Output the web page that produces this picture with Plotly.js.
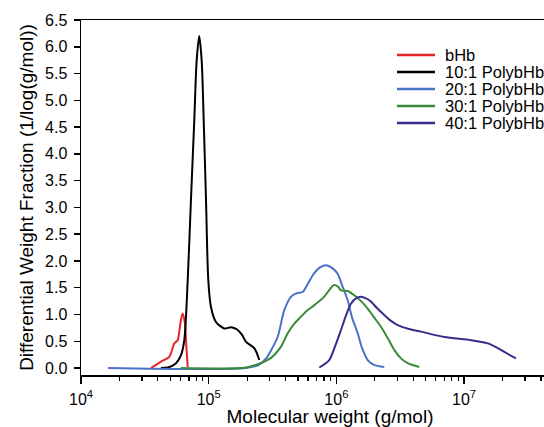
<!DOCTYPE html>
<html><head><meta charset="utf-8">
<script src="https://cdn.plot.ly/plotly-3.0.1.min.js"></script>
<style>html,body{margin:0;padding:0;overflow:hidden;background:#fff}#chart{width:590px;height:427px}</style>
</head><body><div id="chart"></div>
<script>
// Molecular weight (g/mol) and differential weight fraction
const bHb_mw = [35300, 42300, 49100, 53800, 57100, 60000, 62500, 65200, 66800, 68500];
const bHb_y  = [0.0, 0.12, 0.21, 0.46, 0.52, 0.83, 1.02, 0.83, 0.40, 0.02];

const p10_mw = [42300, 47800, 55500, 60700, 64400, 68500, 72600, 77100, 80500, 84300, 88100, 91400, 95300, 99300, 104200, 114000, 132400, 149600, 166700, 182400, 195900, 227500, 248900];
const p10_y  = [0.0, 0.01, 0.09, 0.24, 0.52, 1.64, 3.13, 4.62, 5.74, 6.20, 5.74, 4.62, 3.13, 1.64, 1.14, 0.86, 0.74, 0.76, 0.72, 0.62, 0.49, 0.37, 0.15];

const p20_mw = [16300, 195900, 247700, 281200, 307600, 346700, 390800, 440600, 490900, 544500, 599800, 668300, 744700, 829900, 924700, 1023300, 1106600, 1224600, 1324300, 1468900, 1584900, 1757900, 1967900, 2371400];
const p20_y  = [0.0, 0.0, 0.06, 0.18, 0.33, 0.58, 1.08, 1.33, 1.40, 1.42, 1.58, 1.77, 1.88, 1.92, 1.87, 1.76, 1.55, 1.27, 0.95, 0.65, 0.38, 0.15, 0.06, 0.02];

const p30_mw = [60700, 195900, 247700, 307600, 368100, 415900, 465600, 528500, 588800, 668300, 799800, 875000, 957200, 1030400, 1086400, 1224600, 1380400, 1559600, 1757900, 1967900, 2233600, 2535100, 2837900, 3206300, 3614100, 4456600];
const p30_y  = [0.0, 0.01, 0.08, 0.19, 0.40, 0.65, 0.82, 0.96, 1.07, 1.17, 1.33, 1.45, 1.55, 1.52, 1.45, 1.44, 1.36, 1.25, 1.11, 0.95, 0.77, 0.55, 0.34, 0.18, 0.09, 0.02];

const p40_mw = [734500, 879000, 975000, 1086400, 1188500, 1300200, 1422300, 1559600, 1706100, 1866400, 2079700, 2371400, 2679200, 3020000, 3698300, 4592000, 6998400, 11324000, 15311000, 18113000, 20654000, 25468000];
const p40_y  = [0.01, 0.15, 0.40, 0.71, 0.98, 1.20, 1.30, 1.33, 1.30, 1.24, 1.12, 0.99, 0.88, 0.80, 0.73, 0.68, 0.58, 0.52, 0.46, 0.38, 0.30, 0.18];

const seriesNames = ['bHb', '10:1 PolybHb', '20:1 PolybHb', '30:1 PolybHb', '40:1 PolybHb'];
const xTickVals = [1e4, 1e5, 1e6, 1e7];
const xTickText = ['10<sup>4</sup>', '10<sup>5</sup>', '10<sup>6</sup>', '10<sup>7</sup>'];
const yTickVals = [0, 0.5, 1, 1.5, 2, 2.5, 3, 3.5, 4, 4.5, 5, 5.5, 6, 6.5];

const colors = ['#e3242b', '#000000', '#4a72c6', '#3a8a3a', '#3b2a8c'];
const xs = [bHb_mw, p10_mw, p20_mw, p30_mw, p40_mw];
const ys = [bHb_y, p10_y, p20_y, p30_y, p40_y];

const minorVals = [];
for (const d of [1e4, 1e5, 1e6, 1e7]) for (let k = 2; k <= 9; k++) minorVals.push(k * d);

const traces = seriesNames.map((n, i) => ({
  x: xs[i], y: ys[i], name: n, type: 'scatter', mode: 'lines', showlegend: false,
  line: {color: colors[i], width: 2, shape: 'spline', smoothing: 0.8}
}));

// plot box in pixels (for placing the hand-built legend)
const W = 590, H = 427, L = 81, R = 11, T = 20, B = 52;
const pw = W - L - R, ph = H - T - B;
const px = v => (v - L) / pw;
const py = v => (H - B - v) / ph;

const font = {family: 'Arial, "Liberation Sans", sans-serif', color: '#000'};
const shapes = [], annotations = [];
seriesNames.forEach((n, i) => {
  const yy = 55 + 17 * i;
  shapes.push({type: 'line', xref: 'paper', yref: 'paper', x0: px(397), x1: px(435), y0: py(yy), y1: py(yy),
               line: {color: colors[i], width: 2.5}});
  annotations.push({xref: 'paper', yref: 'paper', x: px(443), y: py(yy), xanchor: 'left', yanchor: 'middle',
                    text: n, showarrow: false, font: Object.assign({size: 16.5}, font)});
});

const layout = {
  width: W, height: H,
  margin: {l: L, r: R, t: T, b: B},
  paper_bgcolor: '#fff', plot_bgcolor: '#fff',
  font: Object.assign({size: 13}, font),
  showlegend: false,
  shapes: shapes, annotations: annotations,
  xaxis: {
    type: 'log', range: [4, 7.9],
    tickmode: 'array', tickvals: xTickVals, ticktext: xTickText,
    ticks: 'outside', ticklen: 7, tickwidth: 1.5, tickcolor: '#000',
    minor: {tickmode: 'array', tickvals: minorVals, ticks: 'outside', ticklen: 4, tickwidth: 1.2, tickcolor: '#000', showgrid: false},
    showline: true, linecolor: '#000', linewidth: 1.5, mirror: true,
    showgrid: false, zeroline: false, ticklabelstandoff: 2,
    tickfont: Object.assign({size: 16}, font),
    title: {text: 'Molecular weight (g/mol)', font: Object.assign({size: 19}, font), standoff: 3}
  },
  yaxis: {
    range: [-0.13, 6.5],
    tickmode: 'array', tickvals: yTickVals, tickformat: '.1f',
    ticks: 'outside', ticklen: 6, tickwidth: 1.5, tickcolor: '#000',
    showline: true, linecolor: '#000', linewidth: 1.5, mirror: true,
    showgrid: false, zeroline: false, ticklabelstandoff: 3,
    tickfont: Object.assign({size: 16}, font),
    title: {text: 'Differential Weight Fraction (1/log(g/mol))', font: Object.assign({size: 19}, font), standoff: 6}
  }
};
Plotly.newPlot('chart', traces, layout, {displayModeBar: false, staticPlot: true});
</script></body></html>
